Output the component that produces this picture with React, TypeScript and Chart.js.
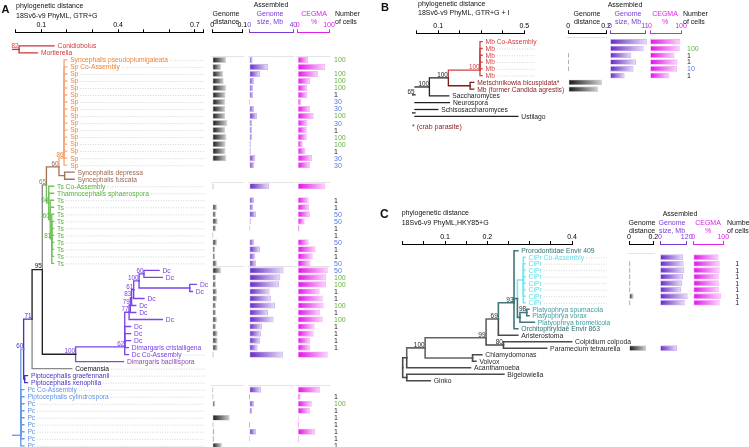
import React, { useEffect, useRef } from 'react';
import { Chart, registerables } from 'chart.js';

Chart.register(...registerables);

const FONT = '"Liberation Sans", Arial, Helvetica, sans-serif';

/* ======================= Panel A data ======================= */
const A_LABELS = [
  'Conidiobolus', 'Mortierella',
  'Syncephalis pseudoplumigaleata', 'Sp Co-Assembly',
  'Sp', 'Sp', 'Sp', 'Sp', 'Sp', 'Sp', 'Sp', 'Sp', 'Sp', 'Sp', 'Sp', 'Sp', 'Sp', 'Sp',
  'Syncephalis depressa', 'Syncephalis fuscata',
  'Ts Co-Assembly', 'Thamnocephalis sphaerospora',
  'Ts', 'Ts', 'Ts', 'Ts', 'Ts', 'Ts', 'Ts', 'Ts', 'Ts', 'Ts',
  'Dc', 'Dc', 'Dc', 'Dc', 'Dc', 'Dc', 'Dc', 'Dc', 'Dc', 'Dc', 'Dc',
  'Dimargaris cristalligena', 'Dc Co-Assembly', 'Dimargaris bacillispora',
  'Coemansia', 'Piptocephalis graefennanii', 'Piptocephalis xenophila',
  'Pc Co-Assembly', 'Piptocephalis cylindrospora',
  'Pc', 'Pc', 'Pc', 'Pc', 'Pc', 'Pc', 'Pc',
];
const A_TREE_TICK_LABELS = [0.1, 0.4, 0.7];
const A_BLOCKS = [[2, 17], [20, 31], [32, 44], [49, 57]];
const A_GENOME_DIST = [
  null, null,
  0.045, 0.028, 0.035, 0.037, 0.045, 0.043, 0.042, 0.042, 0.042, 0.049, 0.042, 0.046, 0.043, 0.043, 0.046, null,
  null, null,
  0.004, null,
  null, 0.015, 0.012, 0.017, 0.012, 0.003, 0.015, 0.009, 0.009, 0.015,
  0.028, 0.012, 0.012, 0.015, 0.015, 0.012, 0.012, 0.015, 0.012, 0.017, 0.017,
  0.017, 0.004, null,
  null, null, null,
  0.003, 0.003,
  0.009, null, 0.057, 0.004, 0.006, 0.005, 0.031,
];
const A_GENOME_SIZE = [
  null, null,
  2.7, 16.7, 9.4, 4.0, 3.1, 3.1, 0.6, 4.0, 6.7, 2.2, 2.2, 2.2, 1.3, 1.3, 5.2, 4.3,
  null, null,
  17.6, null,
  4.0, 3.4, 5.8, 1.3, 0.6, null, 4.0, 9.4, 5.2, 5.8,
  30.9, 27.9, 26.7, 18.2, 19.4, 23.1, 16.7, 21.8, 11.3, 10.4, 9.7,
  7.3, 30.4, null,
  null, null, null,
  10.4, 0.3,
  4.3, 2.4, null, 0.3, 5.8, 0.5, null,
];
const A_CEGMA = [
  null, null,
  32, 87, 64, 38, 30, 30, 10, 39, 50, 30, 28, 28, 15, 24, 45, 38,
  null, null,
  87, null,
  34, 35, 39, 21, 5, null, 34, 56, 47, 40,
  95, 90, 90, 69, 79, 82, 71, 79, 53, 50, 39,
  39, 95, null,
  null, null, null,
  71, 8,
  44, 38, 2, 4, 55, 3, null,
];
const A_CELLS = [
  null, null,
  100, null, 100, 100, 100, 1, 30, 30, 100, 30, 1, 100, 100, 1, 30, 30,
  null, null,
  null, null,
  1, 1, 50, 50, 1, 1, 50, 1, 1, 50,
  50, 100, 100, 1, 1, 100, 1, 100, 1, 1, 1,
  1, null, null,
  null, null, null,
  null, 1,
  100, 1, 1, 1, 1, 1, 1,
];

/* ======================= Panel B data ======================= */
const B_LABELS = [
  'Mb Co-Assembly', 'Mb', 'Mb', 'Mb', 'Mb', 'Mb',
  'Metschnikowia bicuspidata*', 'Mb (former Candida agrestis)',
  'Saccharomyces', 'Neurospora', 'Schisosaccharomyces', 'Ustilago',
];
const B_TREE_TICK_LABELS = [0.1, 0.5];
const B_BLOCKS = [[0, 5]];
const B_GENOME_DIST = [null, null, 0.002, 0.002, 0.002, null, 0.177, 0.156, null, null, null, null];
const B_GENOME_SIZE = [11.5, 10.5, 6.6, 8.1, 7.3, 4.5, null, null, null, null, null, null];
const B_CEGMA = [97, 95, 78, 88, 86, 62, null, null, null, null, null, null];
const B_CELLS = [null, 100, 1, 1, 10, 1, null, null, null, null, null, null];

/* ======================= Panel C data ======================= */
const C_LABELS = [
  'Prorodontidae Envir 409', 'CiPr Co-Assembly',
  'CiPr', 'CiPr', 'CiPr', 'CiPr', 'CiPr', 'CiPr', 'CiPr',
  'Platyophrya spumacola', 'Platyophrya vorax', 'Platyophrya bromelicola',
  'Orchitophryidae Envir 863', 'Aristerostoma', 'Colpidium colpoda', 'Paramecium tetraurelia',
  'Chlamydomonas', 'Volvox', 'Acanthamoeba', 'Bigelowiella', 'Ginko',
];
const C_TREE_TICK_LABELS = [0.1, 0.2, 0.4];
const C_BLOCKS = [[1, 8]];
const C_GENOME_DIST = [null, null, 0.01, 0.01, 0.01, 0.01, 0.01, 0.035, 0.01, null, null, null, null, null, null, 0.14, null, null, null, null, null];
const C_GENOME_SIZE = [null, 102, 105, 108, 102, 98, 93, 123, 110, null, null, null, null, null, null, 75, null, null, null, null, null];
const C_CEGMA = [null, 83, 87, 87, 84, 84, 84, 91, 87, null, null, null, null, null, null, null, null, null, null, null, null];
const C_CELLS = [null, null, 1, 1, 1, 1, 1, 1, 1, null, null, null, null, null, null, null, null, null, null, null, null];

/* ======================= Trees (node depth in distance units) ======================= */
type TNode = { d: number; k: string; s?: string; sk?: string; y?: number; c?: TNode[]; r?: number; lead?: boolean; yy?: number };
const L = (r: number, d: number, k: string, lead = false): TNode => ({ r, d, k, lead });
const N = (d: number, k: string, c: TNode[], s?: string, y?: number, sk?: string): TNode => ({ d, k, c, s, y, sk });
const span = (a: number, b: number) => { const o: number[] = []; for (let r = a; r <= b; r++) o.push(r); return o; };

const A_TREE = N(-0.012, 'red', [
  N(0.013, 'red', [L(0, 0.150, 'red'), L(1, 0.085, 'red')], '82'),
  N(0.020, 'blue', [
    N(0.031, 'blue', [
      N(0.064, 'pip', [
        N(0.104, 'black', [
          N(0.120, 'gray', [
            N(0.169, 'brown', [
              N(0.189, 'orange', span(2, 17).map((r) => L(r, 0.199, 'orange', true)), '86', 16),
              N(0.191, 'brown', [L(18, 0.228, 'brown'), L(19, 0.228, 'brown')]),
            ], '60'),
            N(0.129, 'green', [
              L(20, 0.148, 'green', true), L(21, 0.148, 'green', true),
              N(0.135, 'green', [
                L(22, 0.148, 'green', true), L(23, 0.148, 'green', true),
                N(0.141, 'green', span(24, 31).map((r) => L(r, 0.148, 'green', true)), '81'),
              ], '60'),
            ], '64'),
          ], '65', undefined, 'green'),
          N(0.234, 'black', [
            N(0.426, 'purple', [
              N(0.443, 'purple', [
                N(0.448, 'purple', [
                  N(0.453, 'purple', [
                    N(0.461, 'purple', [
                      N(0.482, 'purple', [
                        N(0.501, 'purple', [L(32, 0.560, 'purple'), L(33, 0.573, 'purple')], '60'),
                        N(0.680, 'purple', [L(34, 0.706, 'purple'), L(35, 0.690, 'purple')]),
                      ], '100'),
                      L(36, 0.501, 'purple'),
                    ], '61'),
                    L(37, 0.469, 'purple'),
                  ], '83'),
                  L(38, 0.469, 'purple'),
                ], '79'),
                L(39, 0.573, 'purple'),
              ], '77'),
              L(40, 0.449, 'purple'), L(41, 0.449, 'purple'), L(42, 0.449, 'purple'),
              L(43, 0.440, 'purple', true), L(44, 0.440, 'purple', true),
            ], '62', 42.9),
            L(45, 0.421, 'dimb'),
          ], '100', undefined, 'purple'),
        ], '95'),
        L(46, 0.219, 'gray', true),
      ], '71'),
      N(0.035, 'pip', [L(47, 0.046, 'pip', true), L(48, 0.046, 'pip', true)]),
    ], '60', undefined, 'pip'),
    ...span(49, 57).map((r) => L(r, 0.032, 'blue', true)),
  ], undefined, 55.5),
]);

const B_TREE = N(-0.019, 'black', [
  N(-0.008, 'black', [
    N(0.059, 'black', [
      N(0.147, 'black', [
        N(0.294, 'red', span(0, 5).map((r) => L(r, 0.304, 'red', true)), '100', 4.2),
        N(0.248, 'dred', [L(6, 0.265, 'dred'), L(7, 0.265, 'dred')]),
      ], '100'),
      L(8, 0.149, 'black'),
    ], '100'),
    L(9, 0.152, 'black'),
  ], '65'),
  N(-0.008, 'black', [L(10, 0.098, 'black'), L(11, 0.470, 'black')]),
]);

const C_TREE = N(0, 'dark', [
  N(0.0095, 'dark', [
    N(0.053, 'gray', [
      N(0.197, 'gray', [
        N(0.226, 'gray', [
          N(0.263, 'teal', [
            L(0, 0.272, 'tealdark'),
            N(0.271, 'teal', [
              N(0.285, 'cyan', span(1, 8).map((r) => L(r, 0.289, 'cyan', true))),
              N(0.277, 'teal', [
                N(0.293, 'teal', [L(9, 0.298, 'teal'), L(10, 0.298, 'teal')], '98', undefined, 'dark'),
                L(11, 0.311, 'teal'),
              ]),
            ]),
            L(12, 0.272, 'tealdark'),
          ], '93', 8, 'dark'),
          L(13, 0.272, 'dark'),
        ], '69', undefined, 'dark'),
        N(0.238, 'dark', [L(14, 0.399, 'dark'), L(15, 0.340, 'dark')], '80'),
      ], '99', 13.4, 'dark'),
      N(0.165, 'gray', [L(16, 0.187, 'dark'), L(17, 0.173, 'dark')]),
    ], '100', undefined, 'dark'),
    L(18, 0.160, 'dark'),
  ]),
  N(0.0095, 'dark', [L(19, 0.239, 'dark'), L(20, 0.065, 'dark')]),
]);

/* ======================= Styles ======================= */
const A_LABEL_COLORS: any = { red: '#d23a3c', orange: '#e8843a', brown: '#9a6a50', green: '#55ad3a', gray: '#111', black: '#111', purple: '#7a3ee6', dimb: '#8e4bb3', pip: '#4b30c6', blue: '#5f93e3' };
const A_BRANCH_COLORS: any = { red: '#c9353a', orange: '#f2aa7c', brown: '#a47257', green: '#72c25a', gray: '#8a8a8a', black: '#222', purple: '#7b46e8', dimb: '#8e4bb3', pip: '#4b30c6', blue: '#6a9ae6' };
const B_LABEL_COLORS: any = { black: '#1a1a1a', red: '#d43d3d', dred: '#8a2424' };
const B_BRANCH_COLORS: any = { black: '#222', red: '#c94444', dred: '#7a1c1c' };
const C_LABEL_COLORS: any = { dark: '#2a2a2a', gray: '#2a2a2a', tealdark: '#2f6d6f', teal: '#3f9c9c', cyan: '#5fdbe6' };
const C_BRANCH_COLORS: any = { dark: '#4a4a4a', gray: '#5e6666', teal: '#3f7878', tealdark: '#3f7878', cyan: '#7fe5ee' };

const PURPLE = '#7a3ad6';
const MAGENTA = '#e020e8';
const DIST_STYLE = { dark: '#161616', light: '#cfcfcf', edge: '#d6d6d6', axis: '#000' };
const SIZE_STYLE = { dark: '#6428c4', light: '#e8def8', edge: '#cdb8f0', axis: PURPLE };
const CEGMA_STYLE = { dark: '#e010e8', light: '#fcd6fc', edge: '#f4b4f4', axis: MAGENTA };

const GA = { top: 0, height: 447, axisY: 32.3, row0: 45.9, rowStep: 7.016 };
const GB = { top: 0, height: 130, axisY: 33.3, row0: 41.7, rowStep: 6.78 };
const GC = { top: 185, height: 262, axisY: 244, row0: 250.7, rowStep: 6.5 };

/* ======================= Helpers ======================= */
function buildTree(root: TNode) {
  const segs: any[] = [];
  const leaves: TNode[] = [];
  const inner: TNode[] = [];
  const place = (n: TNode): number => {
    if (n.c) {
      const ys = n.c.map(place);
      n.yy = n.y ?? (Math.min(...ys) + Math.max(...ys)) / 2;
    } else n.yy = n.r as number;
    return n.yy as number;
  };
  place(root);
  const walk = (n: TNode) => {
    if (!n.c) { leaves.push(n); return; }
    inner.push(n);
    for (const c of n.c) {
      segs.push({ k: c.k, pts: [{ x: n.d, y: n.yy }, { x: n.d, y: c.yy }, { x: c.d, y: c.yy }] });
      walk(c);
    }
  };
  walk(root);
  return { segs, leaves, inner };
}

function tickMarks(max: number, step: number) {
  const out: number[] = [];
  for (let i = 0; i * step <= max + 1e-9; i++) out.push(+(i * step).toFixed(4));
  if (Math.abs(out[out.length - 1] - max) > 1e-9) out.push(max);
  return out;
}

function yRange(g: any) {
  const yMin = -(g.row0 - g.axisY) / g.rowStep;
  const yMax = yMin + (g.top + g.height - g.axisY) / g.rowStep;
  return { yMin, yMax };
}

function TreeChart(p: any) {
  const ref = useRef<HTMLCanvasElement>(null);
  useEffect(() => {
    const g = p.g;
    const { segs, leaves, inner } = buildTree(p.tree);
    const { yMin, yMax } = yRange(g);
    const marks = tickMarks(p.xMax, p.step);
    const labelPlugin = {
      id: 'treeLabels',
      afterDatasetsDraw(chart: any) {
        const { ctx } = chart;
        const xs = chart.scales.x;
        const ys = chart.scales.y;
        ctx.save();
        ctx.font = `${p.fontSize}px ${FONT}`;
        ctx.textBaseline = 'middle';
        ctx.textAlign = 'left';
        for (const lf of leaves) {
          const px = xs.getPixelForValue(lf.d) + 3.5;
          const py = ys.getPixelForValue(lf.r) + 0.5;
          const text = p.labels[lf.r as number];
          ctx.fillStyle = p.labelColors[lf.k];
          ctx.fillText(text, px, py);
          if (lf.lead) {
            const w = ctx.measureText(text).width;
            const xe = xs.getPixelForValue(p.leadTo);
            if (xe > px + w + 4) {
              ctx.beginPath();
              ctx.setLineDash([1, 1.5]);
              ctx.strokeStyle = '#c2c2c2';
              ctx.lineWidth = 0.7;
              ctx.moveTo(px + w + 2, py);
              ctx.lineTo(xe, py);
              ctx.stroke();
              ctx.setLineDash([]);
            }
          }
        }
        ctx.font = `${p.supSize}px ${FONT}`;
        ctx.textAlign = 'right';
        ctx.textBaseline = 'alphabetic';
        for (const n of inner) {
          if (!n.s) continue;
          ctx.fillStyle = p.labelColors[n.sk ?? n.k];
          ctx.fillText(n.s, xs.getPixelForValue(n.d) - 0.5, ys.getPixelForValue(n.yy) - 1.2);
        }
        ctx.restore();
      },
    };
    const chart = new Chart(ref.current as HTMLCanvasElement, {
      type: 'scatter',
      data: {
        datasets: segs.map((s: any) => ({
          data: s.pts,
          showLine: true,
          borderColor: p.branchColors[s.k],
          borderWidth: p.lineWidth,
          pointRadius: 0,
          pointHoverRadius: 0,
          clip: false,
          borderJoinStyle: 'miter',
          borderCapStyle: 'square',
          tension: 0,
        })),
      },
      options: {
        animation: false,
        responsive: false,
        events: [],
        layout: { padding: { left: p.x0px - p.left, right: p.left + p.width - p.x1px, top: 0, bottom: 0 } },
        plugins: { legend: { display: false }, tooltip: { enabled: false } },
        scales: {
          x: {
            type: 'linear',
            position: 'top',
            min: 0,
            max: p.xMax,
            afterFit: (s: any) => { s.height = g.axisY - g.top; },
            afterBuildTicks: (s: any) => { s.ticks = marks.map((v) => ({ value: v })); },
            grid: { drawOnChartArea: false, drawTicks: true, tickLength: 3, color: '#000', lineWidth: 1 },
            border: { display: true, color: '#000', width: 1 },
            ticks: {
              autoSkip: false,
              maxRotation: 0,
              padding: 0,
              color: '#000',
              font: { family: FONT, size: 7 },
              callback: (v: any) => (p.tickLabels.some((t: number) => Math.abs(t - v) < 1e-6) ? String(+(+v).toFixed(3)) : ''),
            },
          },
          y: { type: 'linear', display: false, reverse: true, min: yMin, max: yMax },
        },
      },
      plugins: [labelPlugin],
    } as any);
    return () => chart.destroy();
  }, []);
  return (
    <canvas ref={ref} width={p.width} height={p.g.height}
      style={{ position: 'absolute', left: p.left, top: p.g.top, width: p.width, height: p.g.height }} />
  );
}

function BarChart(p: any) {
  const ref = useRef<HTMLCanvasElement>(null);
  useEffect(() => {
    const g = p.g;
    const st = p.style;
    const { yMin, yMax } = yRange(g);
    const pts = p.values.map((v: any, i: number) => (v == null ? null : { x: v, y: i })).filter((d: any) => d);
    const framePlugin = {
      id: 'frames',
      beforeDatasetsDraw(chart: any) {
        if (!p.blocks) return;
        const { ctx, chartArea } = chart;
        const ys = chart.scales.y;
        ctx.save();
        ctx.strokeStyle = '#e4e4e4';
        ctx.lineWidth = 1;
        for (const [a] of p.blocks) {
          const y0 = Math.round(ys.getPixelForValue(a - 0.62)) + 0.5;
          ctx.beginPath();
          ctx.moveTo(chartArea.left - 1.5, y0);
          ctx.lineTo(chartArea.right + 1.5, y0);
          ctx.stroke();
        }
        ctx.restore();
      },
    };
    const cellsPlugin = {
      id: 'cells',
      afterDatasetsDraw(chart: any) {
        if (!p.cells) return;
        const { ctx, chartArea } = chart;
        const ys = chart.scales.y;
        ctx.save();
        ctx.font = `7px ${FONT}`;
        ctx.textAlign = 'left';
        ctx.textBaseline = 'middle';
        p.cells.forEach((v: any, i: number) => {
          if (v == null) return;
          ctx.fillStyle = v === 100 ? '#63b33d' : v === 1 ? '#1a1a1a' : '#5477e0';
          ctx.fillText(String(v), chartArea.right + p.cellsOffset, ys.getPixelForValue(i) + 0.5);
        });
        ctx.restore();
      },
    };
    const chart = new Chart(ref.current as HTMLCanvasElement, {
      type: 'bar',
      data: {
        datasets: [{
          data: pts,
          backgroundColor: (c: any) => {
            const ch = c.chart;
            const xs = ch.scales && ch.scales.x;
            if (!xs || !c.raw || !ch.chartArea) return st.dark;
            const x0 = xs.getPixelForValue(0);
            const x1 = xs.getPixelForValue(c.raw.x);
            const gr = ch.ctx.createLinearGradient(x0, 0, Math.max(x1, x0 + 1), 0);
            gr.addColorStop(0, st.dark);
            gr.addColorStop(1, st.light);
            return gr;
          },
          borderColor: st.edge,
          borderWidth: 0.8,
          borderSkipped: false,
          barThickness: p.thickness,
          clip: false,
        }],
      },
      options: {
        indexAxis: 'y',
        animation: false,
        responsive: false,
        events: [],
        layout: { padding: { left: p.x0px - p.left, right: p.left + p.width - p.x1px, top: 0, bottom: 0 } },
        plugins: { legend: { display: false }, tooltip: { enabled: false } },
        scales: {
          x: {
            type: 'linear',
            position: 'top',
            min: 0,
            max: p.max,
            afterFit: (s: any) => { s.height = g.axisY - g.top; },
            afterBuildTicks: (s: any) => { s.ticks = [{ value: 0 }, { value: p.max }]; },
            grid: { drawOnChartArea: false, drawTicks: true, tickLength: 3, color: st.axis, lineWidth: 1 },
            border: { display: true, color: st.axis, width: 1 },
            ticks: {
              autoSkip: false, maxRotation: 0, padding: 0, color: st.axis,
              font: { family: FONT, size: 7 },
              callback: (v: any) => String(+(+v).toFixed(3)),
            },
          },
          y: { type: 'linear', display: false, reverse: true, min: yMin, max: yMax, offset: false },
        },
      },
      plugins: [framePlugin, cellsPlugin],
    } as any);
    return () => chart.destroy();
  }, []);
  return (
    <canvas ref={ref} width={p.width} height={p.g.height}
      style={{ position: 'absolute', left: p.left, top: p.g.top, width: p.width, height: p.g.height }} />
  );
}

function T(p: any) {
  const center = p.align === 'center';
  return (
    <div style={{
      position: 'absolute', left: p.x, top: p.y, fontSize: p.size ?? 7, color: p.color ?? '#111',
      fontWeight: p.bold ? 700 : 400, fontFamily: FONT, lineHeight: 1, whiteSpace: 'nowrap',
      transform: center ? 'translate(-50%,-50%)' : 'translateY(-50%)',
    }}>{p.children}</div>
  );
}

export default function App() {
  return (
    <div style={{ position: 'fixed', left: 0, top: 0, width: 749, height: 447, background: '#fff', overflow: 'hidden' }}>
      {/* ---------- Panel A ---------- */}
      <TreeChart g={GA} left={0} width={214} x0px={15.7} x1px={203.3} xMax={0.733} step={0.1}
        tickLabels={A_TREE_TICK_LABELS} tree={A_TREE} labels={A_LABELS} leadTo={0.739}
        lineWidth={1.35} fontSize={6.7} supSize={6.3} labelColors={A_LABEL_COLORS} branchColors={A_BRANCH_COLORS} />
      <BarChart g={GA} left={200} width={52} x0px={212.3} x1px={242.3} max={0.1}
        values={A_GENOME_DIST} style={DIST_STYLE} thickness={5.5} blocks={A_BLOCKS} />
      <BarChart g={GA} left={237} width={68} x0px={249.3} x1px={293.3} max={40}
        values={A_GENOME_SIZE} style={SIZE_STYLE} thickness={5.5} blocks={A_BLOCKS} />
      <BarChart g={GA} left={285} width={68} x0px={297.7} x1px={329} max={100}
        values={A_CEGMA} style={CEGMA_STYLE} thickness={5.5} cells={A_CELLS} cellsOffset={5} blocks={A_BLOCKS} />

      <T x={1.5} y={9} size={11} bold>A</T>
      <T x={16} y={5}>phylogenetic distance</T>
      <T x={16} y={15}>18Sv6-v9 PhyML, GTR+G</T>
      <T x={271} y={3.5} align="center">Assembled</T>
      <T x={226} y={13} align="center">Genome</T>
      <T x={226} y={21} align="center">distance</T>
      <T x={270} y={13} align="center" color={PURPLE}>Genome</T>
      <T x={270} y={21} align="center" color={PURPLE}>size, Mb</T>
      <T x={314} y={13} align="center" color={MAGENTA}>CEGMA</T>
      <T x={314} y={21} align="center" color={MAGENTA}>%</T>
      <T x={335} y={13}>Number</T>
      <T x={335} y={21}>of cells</T>

      {/* ---------- Panel B ---------- */}
      <TreeChart g={GB} left={370} width={200} x0px={416.7} x1px={524.3} xMax={0.5} step={0.1}
        tickLabels={B_TREE_TICK_LABELS} tree={B_TREE} labels={B_LABELS} leadTo={0.55}
        lineWidth={1.3} fontSize={6.7} supSize={6.3} labelColors={B_LABEL_COLORS} branchColors={B_BRANCH_COLORS} />
      <BarChart g={GB} left={556} width={58} x0px={568.3} x1px={606} max={0.2}
        values={B_GENOME_DIST} style={DIST_STYLE} thickness={5} blocks={B_BLOCKS} />
      <BarChart g={GB} left={598} width={58} x0px={610} x1px={645} max={11}
        values={B_GENOME_SIZE} style={SIZE_STYLE} thickness={5} />
      <BarChart g={GB} left={638} width={72} x0px={650} x1px={681} max={100}
        values={B_CEGMA} style={CEGMA_STYLE} thickness={5} cells={B_CELLS} cellsOffset={6} />

      <T x={381} y={7.3} size={11} bold>B</T>
      <T x={418} y={3.2}>phylogenetic distance</T>
      <T x={418} y={12}>18Sv6-v9 PhyML, GTR+G + I</T>
      <T x={625} y={3.5} align="center">Assembled</T>
      <T x={587} y={13.3} align="center">Genome</T>
      <T x={587} y={21} align="center">distance</T>
      <T x={628} y={13.3} align="center" color={PURPLE}>Genome</T>
      <T x={628} y={21} align="center" color={PURPLE}>size, Mb</T>
      <T x={665} y={13.3} align="center" color={MAGENTA}>CEGMA</T>
      <T x={665} y={21} align="center" color={MAGENTA}>%</T>
      <T x={683} y={13.3}>Number</T>
      <T x={683} y={21}>of cells</T>
      <T x={412} y={126} color="#8a2424">* (crab parasite)</T>

      {/* ---------- Panel C ---------- */}
      <TreeChart g={GC} left={370} width={265} x0px={402.7} x1px={572} xMax={0.4} step={0.05}
        tickLabels={C_TREE_TICK_LABELS} tree={C_TREE} labels={C_LABELS} leadTo={0.482}
        lineWidth={1.6} fontSize={6.8} supSize={6.5} labelColors={C_LABEL_COLORS} branchColors={C_BRANCH_COLORS} />
      <BarChart g={GC} left={617} width={46} x0px={629} x1px={653.3} max={0.2}
        values={C_GENOME_DIST} style={DIST_STYLE} thickness={5} blocks={C_BLOCKS} />
      <BarChart g={GC} left={648} width={50} x0px={660} x1px={686.7} max={120}
        values={C_GENOME_SIZE} style={SIZE_STYLE} thickness={5} />
      <BarChart g={GC} left={681} width={68} x0px={693.3} x1px={723.3} max={100}
        values={C_CEGMA} style={CEGMA_STYLE} thickness={5} cells={C_CELLS} cellsOffset={12} />

      <T x={380} y={213.5} size={12} bold>C</T>
      <T x={401.7} y={211.7}>phylogenetic distance</T>
      <T x={401.7} y={221.7}>18Sv6-v9 PhyML,HKY85+G</T>
      <T x={680} y={213.3} align="center">Assembled</T>
      <T x={642} y={222.3} align="center">Genome</T>
      <T x={642} y={230} align="center">distance</T>
      <T x={672} y={222.3} align="center" color={PURPLE}>Genome</T>
      <T x={672} y={230} align="center" color={PURPLE}>size, Mb</T>
      <T x={708} y={222.3} align="center" color={MAGENTA}>CEGMA</T>
      <T x={708} y={230} align="center" color={MAGENTA}>%</T>
      <T x={727} y={222.3}>Number</T>
      <T x={727} y={230}>of cells</T>
    </div>
  );
}
